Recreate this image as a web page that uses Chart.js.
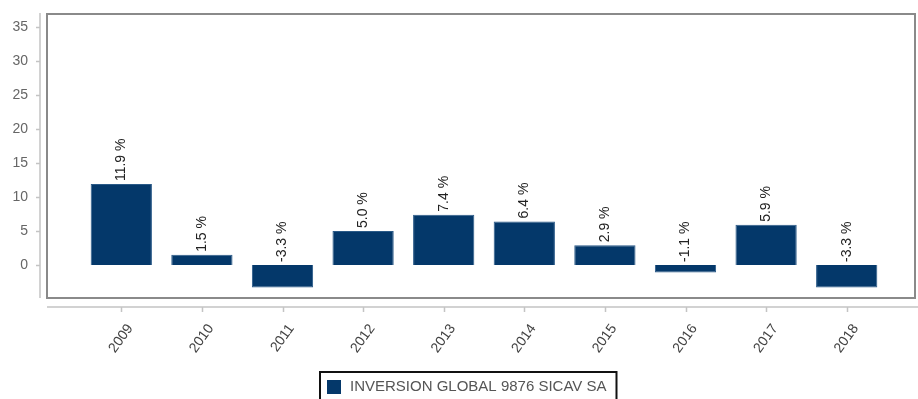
<!DOCTYPE html>
<html lang="es">
<head>
    <meta charset="UTF-8">
    <title>Rentabilidad anual</title>
    <script src="https://cdn.jsdelivr.net/npm/chart.js"></script>
    <style>
        body {
            margin: 0;
            padding: 0;
            background: #ffffff;
        }
        canvas {
            display: block;
        }
    </style>
</head>
<body>
    <canvas id="returnsChart" width="918" height="399"></canvas>

    <script>
        // Annual returns (%) per year
        const years = ["2009", "2010", "2011", "2012", "2013", "2014", "2015", "2016", "2017", "2018"];
        const returns = [11.9, 1.5, -3.3, 5.0, 7.4, 6.4, 2.9, -1.1, 5.9, -3.3];
        const yTicks = [0, 5, 10, 15, 20, 25, 30, 35];
        const fundName = "INVERSION GLOBAL 9876 SICAV SA";

        const barColor = "#04386a";
        const font = "Liberation Sans, Arial, sans-serif";

        // Frame, detached axis lines and their ticks
        const framePlugin = {
            id: "frame",
            beforeDatasetsDraw(chart) {
                const ctx = chart.ctx;
                const a = chart.chartArea;
                const xs = chart.scales.x;
                const ys = chart.scales.y;
                ctx.save();

                // outer box
                ctx.strokeStyle = "#8a8a8a";
                ctx.lineWidth = 2;
                ctx.strokeRect(a.left - 34, a.top, (a.right + 28) - (a.left - 34), a.bottom - a.top);

                // y axis line
                ctx.strokeStyle = "#c4c4c4";
                ctx.lineWidth = 1.5;
                const ax = a.left - 41;
                ctx.beginPath();
                ctx.moveTo(ax, a.top - 1);
                ctx.lineTo(ax, a.bottom);
                yTicks.forEach(v => {
                    const py = Math.round(ys.getPixelForValue(v)) + 0.5;
                    ctx.moveTo(ax - 4, py);
                    ctx.lineTo(ax, py);
                });
                ctx.stroke();

                // x axis line
                const ay = a.bottom + 9;
                ctx.beginPath();
                ctx.moveTo(a.left - 34, ay);
                ctx.lineTo(chart.width, ay);
                years.forEach((y, i) => {
                    const px = Math.round(xs.getPixelForValue(i)) + 0.5;
                    ctx.moveTo(px, ay);
                    ctx.lineTo(px, ay + 5);
                });
                ctx.stroke();
                ctx.restore();
            }
        };

        // Vertical value labels above each bar (or above zero for negatives)
        const valueLabels = {
            id: "valueLabels",
            afterDatasetsDraw(chart) {
                const ctx = chart.ctx;
                const ys = chart.scales.y;
                const meta = chart.getDatasetMeta(0);
                ctx.save();
                ctx.fillStyle = "#222222";
                ctx.font = "14px " + font;
                ctx.textAlign = "left";
                ctx.textBaseline = "middle";
                meta.data.forEach((bar, i) => {
                    const v = returns[i];
                    const py = ys.getPixelForValue(Math.max(v, 0)) - 3;
                    ctx.save();
                    ctx.translate(bar.x, py);
                    ctx.rotate(-Math.PI / 2);
                    ctx.fillText(v.toFixed(1) + " %", 0, 0);
                    ctx.restore();
                });
                ctx.restore();
            }
        };

        // Boxed legend under the axis
        const boxLegend = {
            id: "boxLegend",
            afterDraw(chart) {
                const ctx = chart.ctx;
                const label = chart.data.datasets[0].label;
                ctx.save();
                ctx.font = "15px " + font;
                const tw = ctx.measureText(label).width;
                const bx = 320, by = 372;
                const bw = 30 + tw + 10;
                ctx.strokeStyle = "#111111";
                ctx.lineWidth = 2;
                ctx.strokeRect(bx, by, bw, 40);
                ctx.fillStyle = barColor;
                ctx.fillRect(bx + 7, by + 8, 14, 14);
                ctx.fillStyle = "#555555";
                ctx.textAlign = "left";
                ctx.textBaseline = "middle";
                ctx.fillText(label, bx + 30, by + 15);
                ctx.restore();
            }
        };

        new Chart(document.getElementById("returnsChart"), {
            type: "bar",
            data: {
                labels: years,
                datasets: [{
                    label: fundName,
                    data: returns,
                    backgroundColor: barColor,
                    borderColor: "#2a5a88",
                    borderWidth: 1,
                    barPercentage: 0.76,
                    categoryPercentage: 1
                }]
            },
            options: {
                responsive: false,
                animation: false,
                layout: {
                    padding: { left: 0, top: 14, right: 31, bottom: 0 }
                },
                plugins: {
                    legend: { display: false },
                    tooltip: { enabled: false }
                },
                scales: {
                    x: {
                        offset: true,
                        grid: { display: false },
                        border: { display: false },
                        ticks: {
                            color: "#444444",
                            font: { family: font, size: 14 },
                            minRotation: 54,
                            maxRotation: 54,
                            padding: 15,
                            labelOffset: 9
                        },
                        afterFit(scale) {
                            scale.height = 101;
                            scale.paddingTop = 0;
                            scale.paddingBottom = 0;
                            scale.paddingLeft = 0;
                            scale.paddingRight = 0;
                        }
                    },
                    y: {
                        min: -4.85,
                        max: 36.9,
                        grid: { display: false },
                        border: { display: false },
                        afterBuildTicks(scale) {
                            scale.ticks = yTicks.map(v => ({ value: v }));
                        },
                        ticks: {
                            color: "#666666",
                            font: { family: font, size: 14 },
                            padding: 45
                        },
                        afterFit(scale) {
                            scale.width = 81;
                            scale.paddingTop = 0;
                            scale.paddingBottom = 0;
                        }
                    }
                }
            },
            plugins: [framePlugin, valueLabels, boxLegend]
        });
    </script>
</body>
</html>
